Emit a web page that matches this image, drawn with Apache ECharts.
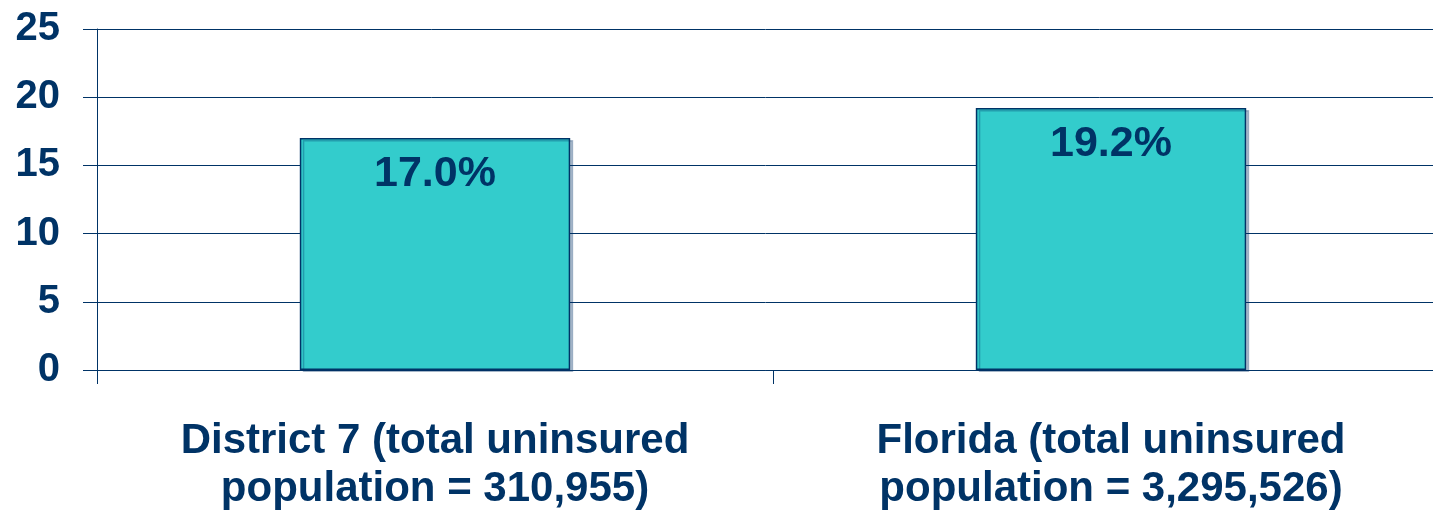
<!DOCTYPE html>
<html>
<head>
<meta charset="utf-8">
<script src="https://cdn.jsdelivr.net/npm/echarts@6/dist/echarts.min.js"></script>
<style>
  html, body { margin: 0; padding: 0; background: #fff; }
  #chart { width: 1433px; height: 514px; }
</style>
</head>
<body>
<div id="chart"></div>
<script>
// chart data
const categories = [
  'District 7 (total uninsured\npopulation = 310,955)',
  'Florida (total uninsured\npopulation = 3,295,526)'
]
const uninsuredPct = [17.0, 19.2]
const yTicks = [0, 5, 10, 15, 20, 25]

const navy = '#003366'
const font = '"Liberation Sans", Arial, sans-serif'

const chart = echarts.init(document.getElementById('chart'))
chart.setOption({
  animation: false,
  grid: {
    left: 97,
    top: 29,
    width: 1352,
    bottom: 144,
    outerBoundsMode: 'none'
  },
  xAxis: {
    type: 'category',
    data: categories,
    boundaryGap: true,
    axisLine: { lineStyle: { color: navy, width: 1 } },
    axisTick: { show: true, length: 14, lineStyle: { color: navy, width: 1 } },
    axisLabel: {
      margin: 47,
      color: navy,
      fontFamily: font,
      fontWeight: 'bold',
      fontSize: 42,
      lineHeight: 48,
      align: 'center'
    }
  },
  yAxis: {
    type: 'value',
    min: yTicks[0],
    max: yTicks[yTicks.length - 1],
    interval: 5,
    axisLine: { show: true, lineStyle: { color: navy, width: 1 } },
    axisTick: { show: true, length: 14, lineStyle: { color: navy, width: 1 } },
    axisLabel: {
      margin: 37,
      color: navy,
      fontFamily: font,
      fontWeight: 'bold',
      fontSize: 40
    },
    splitLine: { lineStyle: { color: navy, width: 1 } }
  },
  series: [
    {
      type: 'bar',
      data: uninsuredPct,
      barWidth: '40%',
      itemStyle: {
        color: '#33CCCC',
        borderColor: navy,
        borderWidth: 1.5,
        shadowColor: 'rgba(0, 51, 102, 0.3)',
        shadowOffsetX: 3,
        shadowOffsetY: 2
      },
      label: {
        show: true,
        position: 'insideTop',
        distance: 15,
        color: navy,
        fontFamily: font,
        fontWeight: 'bold',
        fontSize: 43,
        formatter: p => p.value.toFixed(1) + '%'
      }
    }
  ]
})
</script>
</body>
</html>
